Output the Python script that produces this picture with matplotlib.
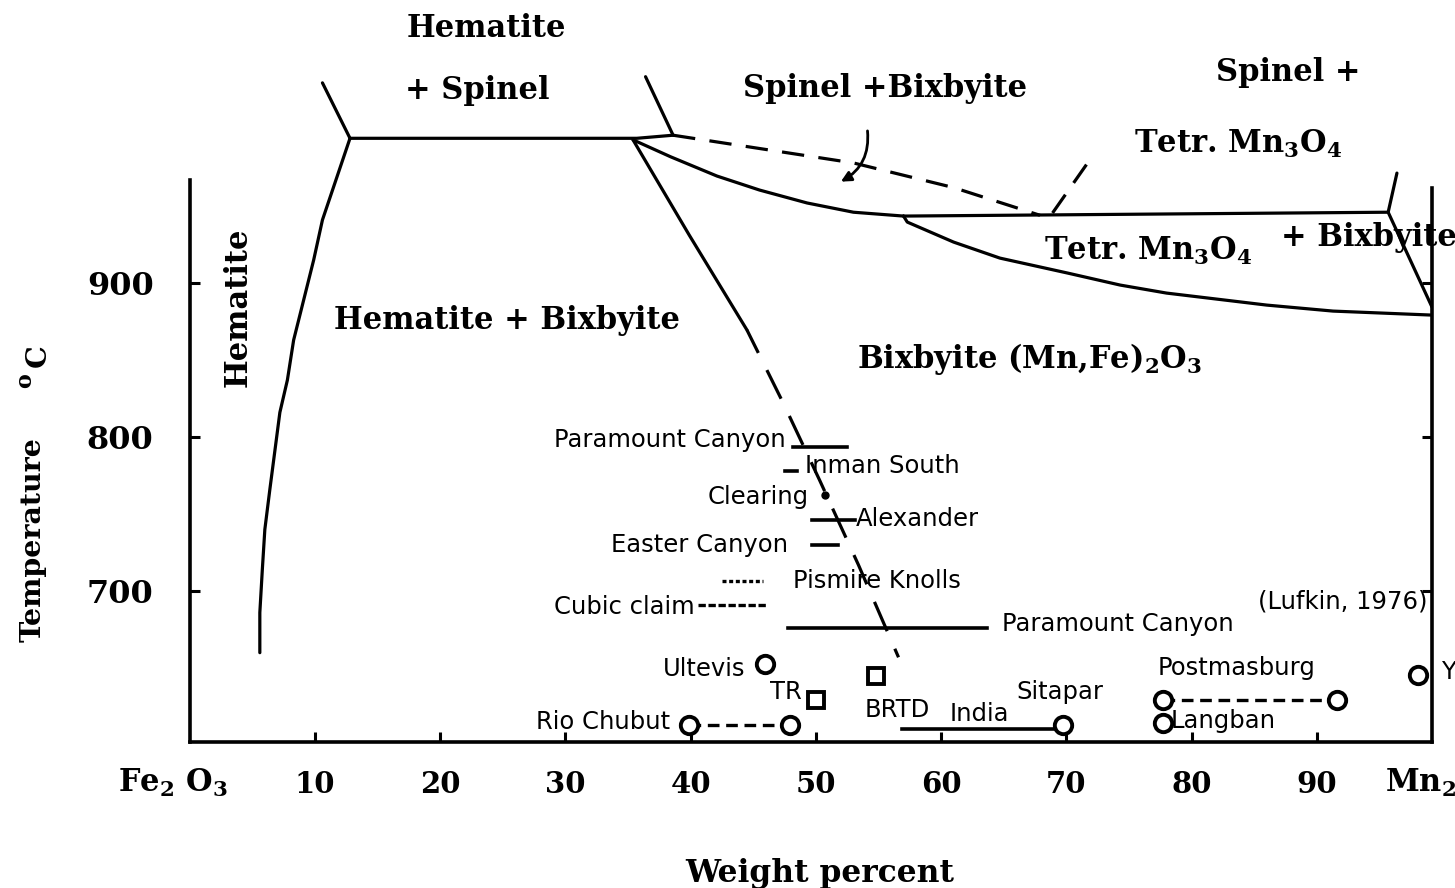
import matplotlib.pyplot as plt

plt.rcParams['mathtext.default'] = 'regular'

W, H = 1455, 888

# phase boundaries, wt% Mn2O3 vs temperature (deg C)
hem_solvus_x = [5.6, 5.6, 5.8, 6.0, 6.4, 7.2, 7.8, 8.3, 9.1, 9.9, 10.6, 12.8]
hem_solvus_t = [660, 686, 714, 740, 766, 816, 837, 863, 889, 915, 941, 994]

plateau_x = [12.8, 35.7, 38.6]
plateau_t = [994, 994, 996]

tick_left_x = [10.6, 12.8]
tick_left_t = [1030, 994]
tick_right_x = [36.4, 38.6]
tick_right_t = [1034, 996]

spinel_dash_x = [38.6, 45.0, 53.0, 61.0, 67.9]
spinel_dash_t = [996, 988, 978, 962, 944]

bix_top_x = [35.4, 38.4, 42.1, 45.5, 49.3, 53.0, 57.0]
bix_top_t = [993, 982, 969.5, 960.4, 952, 946, 943.5]

tetr_x = [57.0, 95.7]
tetr_t = [943.5, 946]

tetr_low_x = [57.0, 57.3, 61.0, 64.7, 70.1, 74.3, 78.0, 86.0, 91.3, 99.2]
tetr_low_t = [943.5, 939.6, 926.6, 916.2, 906.5, 898.7, 893.5, 885.7, 881.8, 879.2]

right_tick_x = [96.4, 95.7, 99.2]
right_tick_t = [971.4, 946, 884.4]

tetr_dash_x = [68.9, 71.7]
tetr_dash_t = [945.5, 978]

bix_solvus_x = [35.4, 39.9, 44.5]
bix_solvus_t = [993, 931, 869.5]
bix_solvus_dash_x = [44.5, 47.4, 50.3, 53.4, 56.6]
bix_solvus_dash_t = [869.5, 822, 772, 717, 657]

# natural samples (Lufkin, 1976)
bar_x0 = [48.2, 47.5, 49.7, 49.7, 47.8, 56.9]
bar_x1 = [52.5, 48.5, 53.1, 51.8, 63.7, 69.6]
bar_t = [793.5, 778, 746, 730, 676, 610.4]

dash_x0 = [42.5, 40.6, 39.9, 77.7]
dash_x1 = [45.8, 46.2, 47.9, 91.6]
dash_t = [706.5, 690.9, 613, 629.4]
dash_style = [(0, (1.2, 0.8)), (0, (2.2, 0.8)), (0, (3.5, 2.0)), (0, (3.5, 2.0))]

circle_x = [45.9, 39.9, 47.9, 69.7, 77.7, 91.6, 77.7, 98.1]
circle_t = [652.6, 613, 613, 613, 629.4, 629.4, 614.3, 645.5]
square_x = [54.8, 50.0]
square_t = [644.8, 629.2]
dot_x = [50.7]
dot_t = [762.3]

sample_names = ['Paramount Canyon', 'Inman South', 'Clearing', 'Alexander',
                'Easter Canyon', 'Pismire Knolls', 'Cubic claim',
                'Paramount Canyon', '(Lufkin, 1976)', 'Ultevis', 'TR',
                'BRTD', 'India', 'Sitapar', 'Postmasburg', 'Langban',
                'Rio Chubut', 'Y']
sample_x = [47.6, 49.1, 49.4, 53.2, 47.8, 48.2, 40.3, 64.9, 85.3, 44.4,
            48.9, 53.9, 60.7, 66.0, 77.3, 78.3, 38.4, 100.0]
sample_t = [798, 781.5, 761, 746.5, 729.9, 706.5, 689.6, 678.4, 693.5, 649.4,
            634.4, 622.7, 620, 634.4, 650, 615.6, 614.9, 647.4]
sample_ha = ['right', 'left', 'right', 'left', 'right', 'left', 'right',
             'left', 'left', 'right', 'right', 'left', 'left', 'left', 'left',
             'left', 'right', 'left']

# field labels
field_text = ['Hematite', '+ Spinel', 'Spinel +Bixbyite', 'Spinel +',
              'Tetr. Mn$_3$O$_4$', 'Tetr. Mn$_3$O$_4$', '+ Bixbyite',
              'Hematite + Bixbyite', 'Bixbyite (Mn,Fe)$_2$O$_3$']
field_x = [23.7, 23.0, 55.5, 87.7, 83.7, 76.5, 94.2, 25.3, 67.1]
field_t = [1065.6, 1025.3, 1026.6, 1037, 990.5, 921, 929.5, 876, 851]

xticks = [10, 20, 30, 40, 50, 60, 70, 80, 90]
yticks = [700, 800, 900]

serif = dict(family='DejaVu Serif', weight='bold')
sans = dict(family='DejaVu Sans')
fs_field = 22

fig = plt.figure(figsize=(W / 100, H / 100), dpi=100)
ax = fig.add_axes([189.7 / W, 1 - 742 / H, (1432 - 189.7) / W, 742 / H])
ax.set_xlim(0, 99.2)
ax.set_ylim(602, 1083.8)

lw = 2.3
k = dict(color='black', lw=lw, solid_capstyle='round', dash_capstyle='butt')
ax.plot(hem_solvus_x, hem_solvus_t, **k)
ax.plot(plateau_x, plateau_t, **k)
ax.plot(tick_left_x, tick_left_t, **k)
ax.plot(tick_right_x, tick_right_t, **k)
ax.plot(spinel_dash_x, spinel_dash_t, ls=(0, (7, 4.5)), **k)
ax.plot(bix_top_x, bix_top_t, **k)
ax.plot(tetr_x, tetr_t, **k)
ax.plot(tetr_low_x, tetr_low_t, **k)
ax.plot(right_tick_x, right_tick_t, **k)
ax.plot(tetr_dash_x, tetr_dash_t, ls=(0, (7, 4.5)), **k)
ax.plot(bix_solvus_x, bix_solvus_t, **k)
ax.plot(bix_solvus_dash_x, bix_solvus_dash_t, ls=(2, (10, 6)), **k)

ax.annotate('', xy=(51.8, 965), xytext=(54.1, 1000.6),
            arrowprops=dict(arrowstyle='-|>,head_length=0.6,head_width=0.3',
                            color='black', lw=2.0,
                            connectionstyle='arc3,rad=-0.35'))

for x0, x1, t in zip(bar_x0, bar_x1, bar_t):
    ax.plot([x0, x1], [t, t], color='black', lw=2.6)
for x0, x1, t, s in zip(dash_x0, dash_x1, dash_t, dash_style):
    ax.plot([x0, x1], [t, t], color='black', lw=2.4, ls=s)

ax.plot(circle_x, circle_t, 'o', ms=12.5, mfc='white', mec='black', mew=2.8,
        clip_on=False)
ax.plot(square_x, square_t, 's', ms=11.5, mfc='white', mec='black', mew=2.8)
ax.plot(dot_x, dot_t, 'o', ms=5, color='black')

for s, x, t, ha in zip(sample_names, sample_x, sample_t, sample_ha):
    ax.text(x, t, s, ha=ha, va='center', fontsize=17.5, **sans)

for s, x, t in zip(field_text, field_x, field_t):
    ax.text(x, t, s, ha='center', va='center', fontsize=fs_field, **serif)
ax.text(3.87, 884, 'Hematite', rotation=90, ha='center', va='center',
        fontsize=fs_field, **serif)

# axes in the scanned style
ax.spines['top'].set_visible(False)
for side in ['left', 'right', 'bottom']:
    ax.spines[side].set_linewidth(2.6)
ax.spines['left'].set_bounds(602, 967)
ax.spines['right'].set_bounds(602, 962)

ax.set_xticks(xticks)
ax.set_xticklabels([str(v) for v in xticks], fontsize=21, **serif)
ax.set_yticks(yticks)
ax.set_yticklabels([str(v) for v in yticks], fontsize=23, **serif)
ax.tick_params(axis='both', direction='in', length=7, width=2.2)
ax.tick_params(axis='x', pad=20)
ax.tick_params(axis='y', pad=26, right=True)

fig.text(118 / W, 1 - 783 / H, 'Fe$_2$ O$_3$', ha='left', va='center',
         fontsize=22, **serif)
fig.text(1385 / W, 1 - 783 / H, 'Mn$_2$', ha='left', va='center',
         fontsize=22, **serif)
fig.text(820 / W, 1 - 873 / H, 'Weight percent', ha='center', va='center',
         fontsize=22.5, **serif)
fig.text(33 / W, 1 - 540 / H, 'Temperature', rotation=90, ha='center',
         va='center', fontsize=20.5, **serif)
fig.text(38 / W, 1 - 356 / H, 'C', rotation=90, ha='center', va='center',
         fontsize=20.5, **serif)
fig.text(25 / W, 1 - 381 / H, 'o', rotation=90, ha='center', va='center',
         fontsize=16, **serif)

fig.savefig('out.png', dpi=100)
